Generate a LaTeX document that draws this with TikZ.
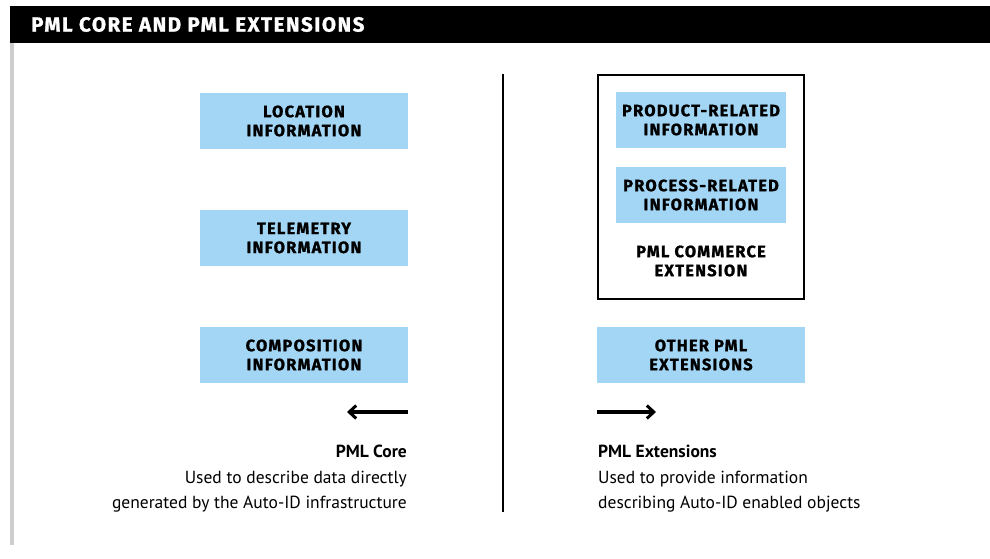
\documentclass[tikz,border=0pt]{standalone}
\usepackage{fontspec}
\setmainfont{PT Sans}
\newfontfamily\boxfont[LetterSpace=7.5,BoldFeatures={FakeBold=1.2}]{Fira Sans}
\newfontfamily\headfont[LetterSpace=7.5,BoldFeatures={FakeBold=1.2}]{Fira Sans}
\usetikzlibrary{arrows.meta}
\definecolor{infoblue}{RGB}{163,214,245}
\definecolor{sidegray}{RGB}{205,205,205}
\begin{document}
\begin{tikzpicture}[x=1pt,y=-1pt,
  boxtext/.style={align=center,font=\boxfont\fontsize{16.4}{19}\selectfont\bfseries,inner sep=0pt},
  infobox/.style={boxtext,fill=infoblue,draw=none,minimum width=208pt,minimum height=56pt},
  smallbox/.style={infobox,minimum width=170pt},
  desc/.style={font=\fontsize{17.5}{25.5}\selectfont,inner sep=0pt},
  arr/.style={-{Straight Barb[length=7pt,width=13pt,line width=3pt]},line width=3.2pt}]
\useasboundingbox (0,0) rectangle (990,559);
\fill[white] (0,0) rectangle (990,559);
\fill[black] (10,6) rectangle (990,43);
\node[anchor=west,text=white,font=\headfont\fontsize{20.5}{20}\selectfont\bfseries,inner sep=0pt] (title) at (31,24.5) {PML CORE AND PML EXTENSIONS};
\fill[sidegray] (10,43) rectangle (14,545);
% left column
\node[infobox] (loc) at (304,121) {LOCATION\\INFORMATION};
\node[infobox] (tel) at (304,238) {TELEMETRY\\INFORMATION};
\node[infobox] (comp) at (304,355) {COMPOSITION\\INFORMATION};
% divider
\coordinate (dtop) at (503,74);
\coordinate (dbot) at (503,512);
\draw[line width=2pt] (dtop) -- (dbot);
% right column
\node[draw=black,line width=2.3pt,minimum width=206pt,minimum height=224pt,inner sep=0pt] (commerce) at (701,187) {};
\node[smallbox] (prod) at (701,120) {PRODUCT-RELATED\\INFORMATION};
\node[smallbox] (proc) at (701,195) {PROCESS-RELATED\\INFORMATION};
\node[boxtext] (commlbl) at (701,261) {PML COMMERCE\\EXTENSION};
\node[infobox] (other) at (701,355) {OTHER PML\\EXTENSIONS};
% arrows
\coordinate (la1) at (408,412);
\coordinate (la2) at (347,412);
\draw[arr] (la1) -- (la2);
\coordinate (ra1) at (597,412);
\coordinate (ra2) at (656,412);
\draw[arr] (ra1) -- (ra2);
% descriptions
\node[desc,anchor=north east,align=right] (coretxt) at (407,445) {\textbf{PML Core}\\Used to describe data directly\\generated by the Auto-ID infrastructure};
\node[desc,anchor=north west,align=left] (exttxt) at (598,445) {\textbf{PML Extensions}\\Used to provide information\\describing Auto-ID enabled objects};
\end{tikzpicture}
\end{document}
